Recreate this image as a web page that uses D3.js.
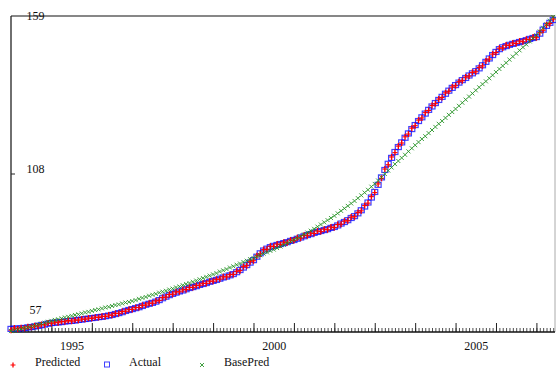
<!DOCTYPE html>
<html>
<head>
<meta charset="utf-8">
<script src="https://cdn.jsdelivr.net/npm/d3@7"></script>
<style>
  body { margin: 0; background: #fff; }
  svg { display: block; font-family: "Liberation Serif", "Times New Roman", serif; }
</style>
</head>
<body>
<div id="chart"></div>
<script>
// monthly series, first point = Jan 1994
const startYear = 1994;

const actual = [
  58.0, 58.1, 58.1, 58.2, 58.3, 58.5, 58.6,
  58.8, 59.0, 59.2, 59.4, 59.7, 59.9,
  60.0, 60.1, 60.2, 60.4, 60.5, 60.6,
  60.7, 60.9, 61.0, 61.2, 61.3, 61.5,
  61.6, 61.8, 61.9, 62.1, 62.3, 62.5,
  62.8, 63.1, 63.4, 63.8, 64.1, 64.4,
  64.7, 65.0, 65.4, 65.8, 66.1, 66.4,
  66.8, 67.3, 67.9, 68.4, 68.9, 69.3,
  69.7, 70.1, 70.4, 70.8, 71.2, 71.5,
  71.8, 72.2, 72.5, 72.8, 73.2, 73.5,
  73.8, 74.2, 74.6, 74.9, 75.3, 75.7,
  76.3, 77.0, 77.8, 78.6, 79.4, 80.2,
  81.3, 82.4, 83.3, 83.9, 84.4, 84.8,
  85.1, 85.4, 85.7, 86.0, 86.4, 86.7,
  87.1, 87.5, 87.9, 88.3, 88.6, 89.0,
  89.3, 89.6, 89.9, 90.2, 90.6, 90.9,
  91.4, 92.0, 92.5, 93.1, 93.8, 94.4,
  95.3, 96.3, 97.5, 98.8, 100.4, 102.2,
  104.5, 106.9, 109.3, 111.3, 113.2, 115.1,
  116.7, 118.2, 119.7, 121.1, 122.5, 123.8,
  125.1, 126.3, 127.5, 128.7, 129.8, 130.9,
  131.9, 132.9, 133.9, 134.9, 135.8, 136.7,
  137.5, 138.3, 139.0, 139.8, 140.5, 141.2,
  142.1, 143.1, 144.2, 145.3, 146.4, 147.4,
  148.3, 148.9, 149.3, 149.7, 150.0, 150.3,
  150.6, 150.9, 151.2, 151.6, 151.9, 152.2,
  153.3, 154.6, 155.8, 156.8, 157.7
];

const predicted = [
  57.6, 58.3, 58.0, 58.4, 58.2, 58.7, 58.5,
  59.0, 58.9, 59.4, 59.3, 59.9, 59.8,
  60.2, 60.0, 60.4, 60.3, 60.7, 60.5,
  60.9, 60.8, 61.2, 61.1, 61.5, 61.4,
  61.8, 61.7, 62.1, 62.0, 62.5, 62.4,
  63.0, 63.0, 63.6, 63.7, 64.3, 64.3,
  64.9, 64.9, 65.6, 65.7, 66.3, 66.3,
  67.0, 67.2, 68.1, 68.3, 69.1, 69.2,
  69.9, 70.0, 70.6, 70.7, 71.4, 71.4,
  72.0, 72.1, 72.7, 72.7, 73.4, 73.4,
  74.0, 74.1, 74.8, 74.8, 75.5, 75.6,
  76.6, 76.8, 78.1, 78.4, 79.7, 80.0,
  81.6, 82.2, 83.6, 83.7, 84.7, 84.6,
  85.4, 85.2, 86.0, 85.8, 86.7, 86.5,
  87.4, 87.3, 88.2, 88.1, 88.9, 88.8,
  89.6, 89.4, 90.2, 90.0, 90.9, 90.7,
  91.7, 91.8, 92.8, 92.9, 94.1, 94.2,
  95.6, 96.1, 97.8, 98.6, 100.7, 102.0,
  104.8, 106.6, 109.6, 111.0, 113.5, 114.9,
  117.0, 118.0, 120.0, 120.9, 122.8, 123.6,
  125.4, 126.1, 127.8, 128.5, 130.1, 130.7,
  132.2, 132.7, 134.2, 134.7, 136.1, 136.5,
  137.8, 138.1, 139.3, 139.6, 140.8, 141.0,
  142.4, 142.9, 144.5, 145.1, 146.7, 147.2,
  148.6, 148.7, 149.6, 149.5, 150.3, 150.1,
  150.9, 150.7, 151.5, 151.4, 152.2, 152.0,
  153.6, 154.4, 156.1, 156.6, 158.0
];

const basePred = [
  57.3, 57.5, 57.8, 58.0, 58.3, 58.5, 58.8,
  59.1, 59.4, 59.7, 60.0, 60.3, 60.6,
  60.9, 61.1, 61.4, 61.7, 61.9, 62.2,
  62.5, 62.7, 63.0, 63.3, 63.5, 63.8,
  64.1, 64.3, 64.6, 64.9, 65.1, 65.4,
  65.7, 65.9, 66.2, 66.5, 66.7, 67.0,
  67.3, 67.7, 68.0, 68.3, 68.7, 69.0,
  69.3, 69.7, 70.0, 70.3, 70.7, 71.0,
  71.4, 71.7, 72.1, 72.5, 72.8, 73.2,
  73.6, 74.0, 74.4, 74.8, 75.2, 75.6,
  76.0, 76.5, 76.9, 77.3, 77.8, 78.2,
  78.7, 79.1, 79.6, 80.0, 80.5, 80.9,
  81.4, 81.8, 82.3, 82.7, 83.2, 83.6,
  84.1, 84.6, 85.1, 85.7, 86.2, 86.7,
  87.3, 87.9, 88.5, 89.1, 89.7, 90.3,
  91.0, 91.7, 92.4, 93.1, 93.8, 94.5,
  95.3, 96.1, 96.9, 97.7, 98.5, 99.3,
  100.2, 101.1, 102.0, 102.9, 103.9, 104.8,
  105.9, 106.9, 108.0, 109.1, 110.1, 111.2,
  112.2, 113.2, 114.2, 115.3, 116.3, 117.3,
  118.3, 119.3, 120.2, 121.2, 122.2, 123.2,
  124.2, 125.1, 126.1, 127.1, 128.0, 129.0,
  130.0, 131.0, 132.0, 133.0, 134.0, 135.0,
  136.0, 137.0, 137.9, 138.9, 139.9, 140.9,
  141.9, 142.9, 143.9, 144.9, 145.9, 146.9,
  147.9, 148.9, 149.8, 150.8, 151.8, 152.8,
  154.0, 155.2, 156.3, 157.5, 158.7
];

const yTicks = [57, 108, 159];
const yearLabels = [1995, 2000, 2005];
const legendNames = ["Predicted", "Actual", "BasePred"];

const width = 556, height = 368;
const plotLeft = 11, plotRight = 555, plotTop = 16, plotBottom = 332;

const svg = d3.select("#chart")
  .append("svg")
  .attr("width", width)
  .attr("height", height);

const x = d3.scaleLinear()
  .domain([1994, 2007.46])
  .range([plotLeft, plotRight]);

const y = d3.scaleLinear()
  .domain([57, 159])
  .range([plotBottom, plotTop]);

const t = i => startYear + i / 12;

// minor (monthly) ticks
const months = d3.range(0, Math.floor((2007.46 - 1994) * 12) + 1).map(t);
svg.append("g")
  .attr("transform", "translate(0," + plotBottom + ")")
  .call(d3.axisBottom(x).tickValues(months).tickSize(-4).tickFormat(""))
  .call(g => g.select(".domain").remove())
  .call(g => g.selectAll("line").attr("stroke", "#222").attr("stroke-width", 0.8));

// major (yearly) ticks
const years = d3.range(1995, 2008);
svg.append("g")
  .attr("transform", "translate(0," + plotBottom + ")")
  .call(d3.axisBottom(x).tickValues(years).tickSize(-9).tickFormat(""))
  .call(g => g.select(".domain").remove())
  .call(g => g.selectAll("line").attr("stroke", "#222").attr("stroke-width", 1));

// year labels sit mid-year
svg.append("g")
  .attr("transform", "translate(0," + plotBottom + ")")
  .call(d3.axisBottom(x).tickValues(yearLabels.map(d => d + 0.5)).tickSize(0)
    .tickPadding(9).tickFormat(d => Math.floor(d)))
  .call(g => g.select(".domain").remove())
  .call(g => g.selectAll("text")
    .attr("font-family", "Liberation Serif, serif")
    .attr("font-size", 12)
    .attr("fill", "#111"));

// frame
svg.append("line").attr("x1", plotLeft).attr("x2", plotRight).attr("y1", plotTop).attr("y2", plotTop)
  .attr("stroke", "#111").attr("stroke-width", 1.2);
svg.append("line").attr("x1", plotRight).attr("x2", plotRight).attr("y1", plotTop).attr("y2", plotBottom)
  .attr("stroke", "#aaa").attr("stroke-width", 1);
svg.append("line").attr("x1", plotLeft).attr("x2", plotRight).attr("y1", plotBottom).attr("y2", plotBottom)
  .attr("stroke", "#111").attr("stroke-width", 1.5);
svg.append("line").attr("x1", plotLeft).attr("x2", plotLeft).attr("y1", plotTop).attr("y2", plotBottom)
  .attr("stroke", "#222").attr("stroke-width", 1.3);

// y axis: tick at 108, labels to the right of the axis
const labelShift = { 57: -22, 108: -5, 159: 0 };
svg.append("line")
  .attr("x1", plotLeft).attr("x2", plotLeft + 4)
  .attr("y1", y(108)).attr("y2", y(108))
  .attr("stroke", "#222");
svg.selectAll(".ylab")
  .data(yTicks)
  .enter()
  .append("text")
  .attr("class", "ylab")
  .attr("x", 35.5)
  .attr("y", d => y(d) + labelShift[d])
  .attr("dy", "0.35em")
  .attr("text-anchor", "middle")
  .attr("font-size", 12)
  .attr("fill", "#111")
  .text(d => d);

// markers
const plot = svg.append("g");

plot.selectAll(".act")
  .data(actual)
  .enter()
  .append("rect")
  .attr("x", (d, i) => x(t(i)) - 3)
  .attr("y", d => y(d) - 2.5)
  .attr("width", 6)
  .attr("height", 5)
  .attr("fill", "none")
  .attr("stroke", "#0000ff")
  .attr("stroke-opacity", 0.75)
  .attr("stroke-width", 1.2);

const plus = (sel, data, color) => {
  const g = sel.selectAll(null).data(data).enter().append("g")
    .attr("transform", (d, i) => "translate(" + x(t(i)) + "," + y(d) + ")");
  g.append("line").attr("x1", -2.5).attr("x2", 2.5).attr("stroke", color).attr("stroke-width", 1.1);
  g.append("line").attr("y1", -3).attr("y2", 3).attr("stroke", color).attr("stroke-width", 1.4);
};
plus(plot, predicted, "#ff0000");

const cross = g => {
  g.append("line").attr("x1", -2).attr("x2", 2).attr("y1", -2).attr("y2", 2);
  g.append("line").attr("x1", -2).attr("x2", 2).attr("y1", 2).attr("y2", -2);
};
plot.selectAll(".bp")
  .data(basePred)
  .enter()
  .append("g")
  .attr("transform", (d, i) => "translate(" + x(t(i)) + "," + y(d) + ")")
  .attr("stroke", "#1f8f1f")
  .attr("stroke-opacity", 0.85)
  .attr("stroke-width", 1)
  .call(cross);

// legend
const legend = svg.append("g").attr("font-size", 12).attr("fill", "#111");
const legendX = [13, 107, 202];
legendNames.forEach((name, k) => {
  const g = legend.append("g").attr("transform", "translate(" + legendX[k] + ",365)");
  if (k === 0) {
    g.append("line").attr("x1", -2.5).attr("x2", 2.5).attr("stroke", "#ff0000");
    g.append("line").attr("y1", -2.5).attr("y2", 2.5).attr("stroke", "#ff0000").attr("stroke-width", 1.3);
  } else if (k === 1) {
    g.append("rect").attr("x", -2.5).attr("y", -3).attr("width", 5).attr("height", 5)
      .attr("fill", "none").attr("stroke", "#0000ff").attr("stroke-opacity", 0.75);
  } else {
    g.attr("stroke", "#1f8f1f").attr("stroke-opacity", 0.85).call(cross);
  }
  legend.append("text")
    .attr("x", legendX[k] + 22)
    .attr("y", 366)
    .text(name);
});
</script>
</body>
</html>
